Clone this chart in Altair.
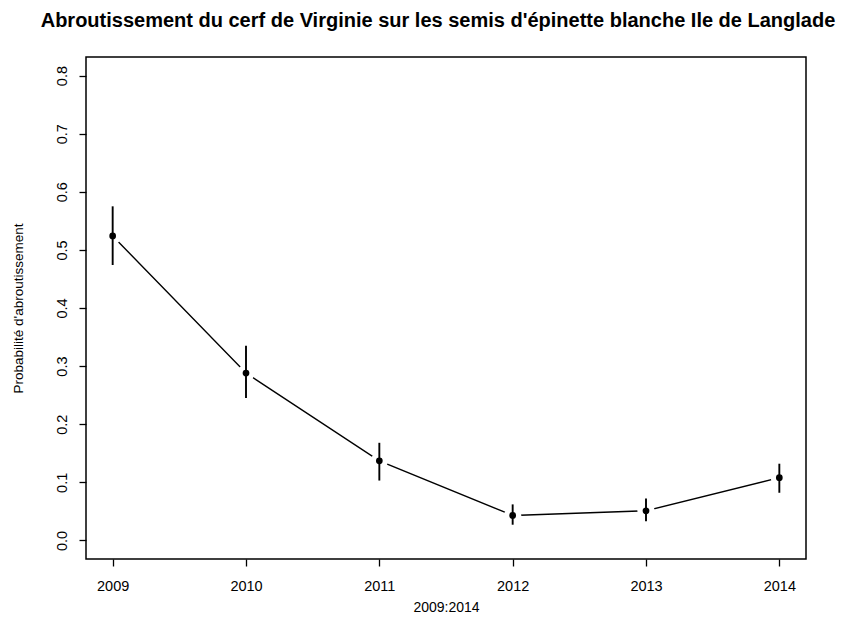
import altair as alt
import pandas as pd

# Browsing probability per year with its interval
years = [2009, 2010, 2011, 2012, 2013, 2014]
prob = [0.524, 0.288, 0.137, 0.043, 0.051, 0.108]
lower = [0.474, 0.245, 0.103, 0.027, 0.033, 0.082]
upper = [0.575, 0.335, 0.168, 0.062, 0.072, 0.132]

y_ticks = [0.0, 0.1, 0.2, 0.3, 0.4, 0.5, 0.6, 0.7, 0.8]

df = pd.DataFrame({"annee": years, "p": prob, "lo": lower, "hi": upper})

FONT = "Liberation Sans"

x_enc = alt.X(
    "annee:Q",
    scale=alt.Scale(domain=[2008.8, 2014.2], nice=False, zero=False),
    axis=alt.Axis(
        values=years, format="d", title="2009:2014",
        domain=False, grid=False, tickColor="black", tickSize=7, tickWidth=1.3,
        labelFontSize=14.5, labelFont=FONT, labelColor="black", labelPadding=13,
        titleFontSize=14, titleFont=FONT, titleFontWeight="normal", titleColor="black",
        titlePadding=8,
    ),
)
y_enc = alt.Y(
    "p:Q",
    scale=alt.Scale(domain=[-0.032, 0.832], nice=False, zero=False),
    axis=alt.Axis(
        values=y_ticks, format=".1f", title="Probabilité d'abroutissement",
        domain=False, grid=False, tickColor="black", tickSize=7, tickWidth=1.3,
        labelAngle=270, labelAlign="center", labelBaseline="bottom",
        labelFontSize=14.5, labelFont=FONT, labelColor="black", labelPadding=10,
        titleFontSize=13.5, titleFont=FONT, titleFontWeight="normal", titleColor="black",
        titlePadding=29,
    ),
)

base = alt.Chart(df)

line = base.mark_line(color="black", strokeWidth=1.4).encode(x=x_enc, y=y_enc)

# white halos leave a small gap in the line around each point
halo = base.mark_point(filled=True, color="white", opacity=1, size=300, shape="circle").encode(
    x="annee:Q", y="p:Q"
)

bars = base.mark_rule(color="black", strokeWidth=1.9).encode(
    x="annee:Q", y="lo:Q", y2="hi:Q"
)

points = base.mark_point(filled=True, color="black", opacity=1, size=45, shape="circle").encode(
    x="annee:Q", y="p:Q"
)

chart = (
    alt.layer(line, halo, bars, points)
    .properties(
        width=720,
        height=502,
        title=alt.TitleParams(
            "Abroutissement du cerf de Virginie sur les semis d'épinette blanche Ile de Langlade",
            font=FONT, fontSize=20, fontWeight="bold", color="black",
            anchor="middle", offset=26, dx=-8,
        ),
        padding={"left": 86, "top": 57, "right": 35, "bottom": 79},
        autosize=alt.AutoSizeParams(type="none"),
    )
    .configure(background="white")
    .configure_view(stroke="black", strokeWidth=1.5)
)

chart.save("out.html", embed_options={"renderer": "svg", "actions": False})
